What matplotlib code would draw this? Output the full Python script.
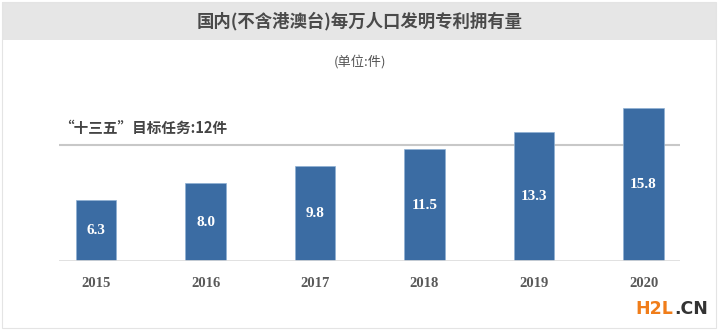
import matplotlib
matplotlib.use("Agg")
import matplotlib.pyplot as plt
from matplotlib.patches import Rectangle

plt.rcParams['font.family'] = ['Noto Sans CJK SC', 'DejaVu Sans']

years = ['2015', '2016', '2017', '2018', '2019', '2020']
values = [6.3, 8.0, 9.8, 11.5, 13.3, 15.8]
labels = ['6.3', '8.0', '9.8', '11.5', '13.3', '15.8']
target = 12

title = '国内(不含港澳台)每万人口发明专利拥有量'
unit = '(单位:件)'
target_label = '“十三五”目标任务:12件'

fig = plt.figure(figsize=(7.2, 3.31), dpi=100)

# title band and frame
fig.patches.append(Rectangle((2/720, 1-40/331), 714/720, 38/331, transform=fig.transFigure,
                             facecolor='#e6e6e6', edgecolor='none', zorder=0))
fig.patches.append(Rectangle((2/720, 3/331), 714/720, 326/331, transform=fig.transFigure,
                             facecolor='none', edgecolor='#e4e4e4', lw=0.8, zorder=0))
fig.text(0.5, 1-21/331, title, ha='center', va='center', fontsize=12.5,
         fontweight='bold', color='#4a4a4a')
fig.text(0.5, 1-62/331, unit, ha='center', va='center', fontsize=9.5, color='#555555')

ax = fig.add_axes([59/720, 1-261/331, 621/720, 161/331])
x = range(len(years))
ax.bar(x, values, width=0.37, color='#3b6ca3', edgecolor='#8fb0d3', linewidth=0.5, zorder=2)
ax.axhline(target, color='#c8c8c8', lw=1.5, zorder=1)
ax.axhline(0, color='#dcdcdc', lw=1.2, zorder=3)

for i, v in enumerate(values):
    ax.text(i, v/2, labels[i], ha='center', va='center', color='white',
            fontsize=11, fontweight='bold', family=['Liberation Serif', 'DejaVu Serif'])
    ax.text(i, -2.3, years[i], ha='center', va='center', color='#595959',
            fontsize=10.5, fontweight='bold', family=['Liberation Serif', 'DejaVu Serif'])

ax.text(0.0, 0.83, target_label, transform=ax.transAxes, ha='left', va='center',
        fontsize=10.5, fontweight='bold', color='#444444')

ax.set_xlim(-0.338, 5.333)
ax.set_ylim(0, 16.6)
ax.axis('off')

# watermark
fig.text(673/720, 1-309/331, 'H2L', ha='right', va='center', fontsize=12.5,
         fontweight='bold', color='#f07d1a', family=['DejaVu Sans'])
fig.text(674/720, 1-309/331, '.CN', ha='left', va='center', fontsize=12.5,
         fontweight='bold', color='#333333', family=['DejaVu Sans'])

fig.savefig('out.png', dpi=100)
